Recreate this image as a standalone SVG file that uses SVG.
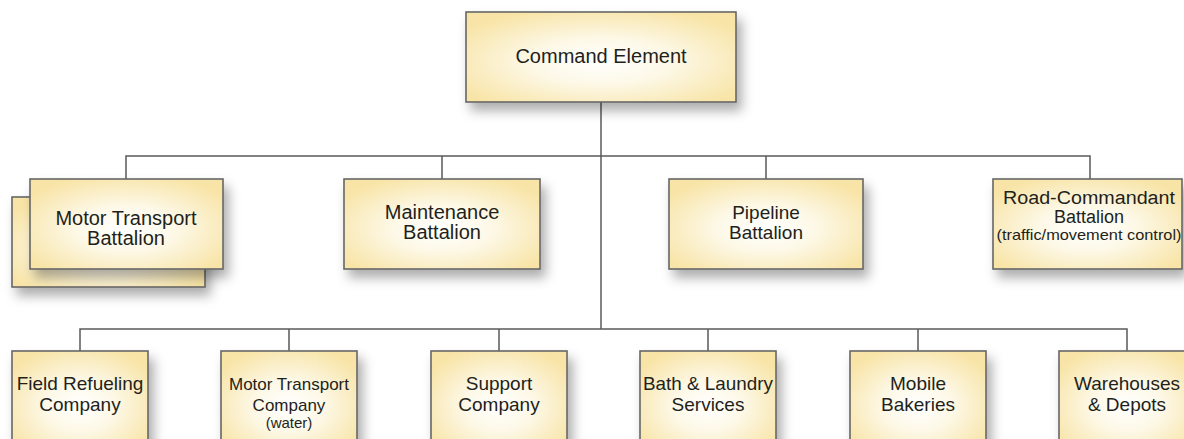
<svg xmlns="http://www.w3.org/2000/svg" width="1184" height="439" viewBox="0 0 1184 439">
<defs>
<radialGradient id="fillG" cx="0.5" cy="0.55" r="0.62">
<stop offset="0" stop-color="#ffffff"/>
<stop offset="0.42" stop-color="#fdf8e6"/>
<stop offset="1" stop-color="#f8e4a6"/>
</radialGradient>
<filter id="sh" x="-20%" y="-20%" width="150%" height="160%">
<feDropShadow dx="5" dy="8" stdDeviation="6" flood-color="#000" flood-opacity="0.32"/>
</filter>
</defs>
<style>
.box{fill:url(#fillG);stroke:#676767;stroke-width:1.6;filter:url(#sh)}
.conn{fill:none;stroke:#5a5a5a;stroke-width:1.5}
text{font-family:"Liberation Sans",Arial,sans-serif;fill:#231f1a;text-anchor:middle}
.t20{font-size:20px}
.t19{font-size:19px}
.t18{font-size:18px}
.t17{font-size:17px}
.s15{font-size:15px}
.s14{font-size:14.5px}
</style>
<rect width="1184" height="439" fill="#ffffff"/>
<g id="connectors">
<path class="conn" d="M601,102 V329"/>
<path class="conn" d="M126,179 V156 H1090 V179 M442,156 V179 M766,156 V179"/>
<path class="conn" d="M80,351 V329 H1127 V351 M289,329 V351 M499,329 V351 M708,329 V351 M918,329 V351"/>
</g>
<g id="command-element">
<rect class="box" x="466" y="12" width="270" height="90"/>
<text class="t20" x="601" y="63">Command Element</text>
</g>
<g id="motor-transport-battalion">
<rect class="box" x="12" y="197" width="193" height="90"/>
<rect class="box" x="30" y="179" width="193" height="90"/>
<text class="t20" x="126" y="225">Motor Transport</text>
<text class="t20" x="126" y="245">Battalion</text>
</g>
<g id="maintenance-battalion">
<rect class="box" x="344" y="179" width="196" height="90"/>
<text class="t20" x="442" y="219">Maintenance</text>
<text class="t20" x="442" y="239">Battalion</text>
</g>
<g id="pipeline-battalion">
<rect class="box" x="669" y="179" width="194" height="90"/>
<text class="t19" x="766" y="219">Pipeline</text>
<text class="t19" x="766" y="239">Battalion</text>
</g>
<g id="road-commandant-battalion">
<rect class="box" x="993" y="179" width="189" height="90"/>
<text class="t18" x="1089" y="204" textLength="172" lengthAdjust="spacingAndGlyphs">Road-Commandant</text>
<text class="t18" x="1089" y="223">Battalion</text>
<text class="s14" x="1089" y="240" textLength="185" lengthAdjust="spacingAndGlyphs">(traffic/movement control)</text>
</g>
<g id="field-refueling-company">
<rect class="box" x="12" y="351" width="136" height="100"/>
<text class="t19" x="80" y="390">Field Refueling</text>
<text class="t19" x="80" y="411">Company</text>
</g>
<g id="motor-transport-company">
<rect class="box" x="221" y="351" width="136" height="100"/>
<text class="t17" x="289" y="390">Motor Transport</text>
<text class="t17" x="289" y="411">Company</text>
<text class="s15" x="289" y="428">(water)</text>
</g>
<g id="support-company">
<rect class="box" x="431" y="351" width="136" height="100"/>
<text class="t19" x="499" y="390">Support</text>
<text class="t19" x="499" y="411">Company</text>
</g>
<g id="bath-laundry-services">
<rect class="box" x="640" y="351" width="136" height="100"/>
<text class="t19" x="708" y="390" textLength="130" lengthAdjust="spacingAndGlyphs">Bath &amp; Laundry</text>
<text class="t19" x="708" y="411">Services</text>
</g>
<g id="mobile-bakeries">
<rect class="box" x="850" y="351" width="136" height="100"/>
<text class="t19" x="918" y="390">Mobile</text>
<text class="t19" x="918" y="411">Bakeries</text>
</g>
<g id="warehouses-depots">
<rect class="box" x="1059" y="351" width="136" height="100"/>
<text class="t19" x="1127" y="390">Warehouses</text>
<text class="t19" x="1127" y="411">&amp; Depots</text>
</g>
</svg>
